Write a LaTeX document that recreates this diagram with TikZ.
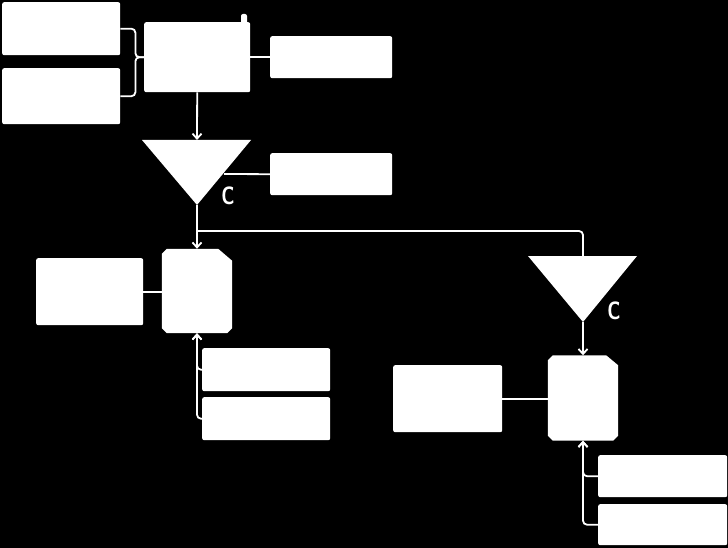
\documentclass[tikz,border=0pt]{standalone}
\usetikzlibrary{arrows.meta}
\begin{document}
\begin{tikzpicture}[x=1pt,y=-1pt,
  box/.style={fill=white,draw=none,rounded corners=2pt,inner sep=0pt,anchor=north west},
  cbox/.style={draw=none,inner sep=0pt},
  conn/.style={draw=white,line width=1.8pt,rounded corners=4pt},
  tip/.style={-{Straight Barb[length=5pt,width=9pt]}},
  clabel/.style={text=white,inner sep=0pt}]
\newcommand{\bigC}{\scalebox{0.75}[1]{\sffamily\bfseries\fontsize{25}{25}\selectfont C}}
\fill[black] (0,0) rectangle (728,548);
\useasboundingbox (0,0) rectangle (728,548);
% top row
\node[box,minimum width=118pt,minimum height=53pt] (a1) at (2,2) {};
\node[box,minimum width=118pt,minimum height=56pt] (a2) at (2,68) {};
\fill[white,rounded corners=2pt] (241,14) rectangle (247,26);
\node[box,minimum width=106pt,minimum height=70pt] (b) at (144,22) {};
\node[box,minimum width=122pt,minimum height=42pt] (r1) at (270,36) {};
% triangle 1
\fill[white] (142,140) coordinate (t1l) -- (251,140) coordinate (t1rr) -- (197,205) coordinate (t1apex) -- cycle;
\coordinate (t1top) at (197,140);
\coordinate (t1r) at (224,174);
\node[clabel] (lc1) at (228,196) {\bigC};
\node[box,minimum width=122pt,minimum height=42pt] (r2) at (270,153) {};
% left branch
\node[cbox,minimum width=70pt,minimum height=84pt] (c1) at (197,291) {};
\fill[white] ([xshift=5pt]c1.north west) -- ([xshift=-14pt]c1.north east) -- ([yshift=-12pt]c1.north east) -- ([yshift=5pt]c1.south east) -- ([xshift=-5pt]c1.south east) -- ([xshift=5pt]c1.south west) -- ([yshift=5pt]c1.south west) -- ([yshift=-5pt]c1.north west) -- cycle;
\node[box,minimum width=107pt,minimum height=67pt] (l1) at (36,258) {};
\node[box,minimum width=128pt,minimum height=43pt] (d1) at (202,348) {};
\node[box,minimum width=128pt,minimum height=43pt] (d2) at (202,397) {};
% right branch
\fill[white] (528,256) coordinate (t2l) -- (637,256) coordinate (t2rr) -- (583,322) coordinate (t2apex) -- cycle;
\coordinate (t2top) at (583,256);
\node[clabel] (lc2) at (614,311) {\bigC};
\node[cbox,minimum width=70pt,minimum height=85pt] (c2) at (583,398) {};
\fill[white] ([xshift=5pt]c2.north west) -- ([xshift=-12pt]c2.north east) -- ([yshift=-10pt]c2.north east) -- ([yshift=5pt]c2.south east) -- ([xshift=-5pt]c2.south east) -- ([xshift=5pt]c2.south west) -- ([yshift=5pt]c2.south west) -- ([yshift=-5pt]c2.north west) -- cycle;
\node[box,minimum width=109pt,minimum height=67pt] (l2) at (393,365) {};
\node[box,minimum width=129pt,minimum height=42pt] (d3) at (598,455) {};
\node[box,minimum width=129pt,minimum height=41pt] (d4) at (598,504) {};
\coordinate (split) at (197,231);
% connectors
\draw[conn] (a1.east) -- ++(15,0) |- (b.west);
\draw[conn] (a2.east) -- ++(15,0) |- (b.west);
\draw[conn] (b.east) -- (r1.west);
\draw[conn,tip] (b.south) -- (t1top);
\draw[conn] (r2.west) -- (t1r);
\draw[conn,tip] (t1apex) -- (c1.north);
\draw[conn] (split) -| (t2top);
\draw[conn] (l1.east) -- (c1.west |- l1.east);
\draw[conn,tip] (d1.west) -| (c1.south);
\draw[conn,tip] (d2.west) -| (c1.south);
\draw[conn,tip] (t2apex) -- (c2.north);
\draw[conn] (l2.east) -- (c2.west |- l2.east);
\draw[conn,tip] (d3.west) -| (c2.south);
\draw[conn,tip] (d4.west) -| (c2.south);
\end{tikzpicture}
\end{document}
